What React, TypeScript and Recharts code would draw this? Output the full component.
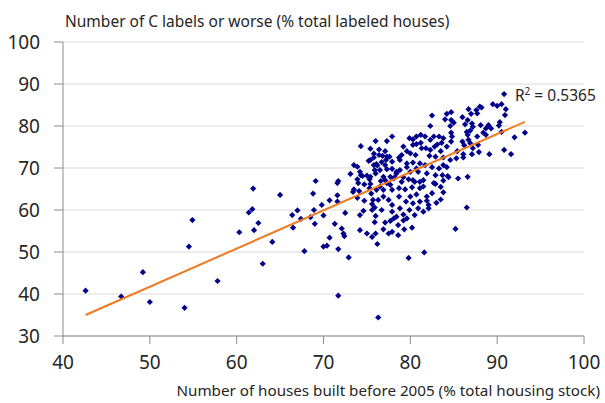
import React from 'react';
import { ScatterChart, Scatter, XAxis, YAxis, CartesianGrid, ReferenceDot } from 'recharts';

const housesBuiltBefore2005 = [
  42.6, 46.7, 49.2, 50.0, 54.0, 54.5, 54.9, 57.8, 60.3, 61.9, 61.8, 61.4, 62.0, 62.5, 63.0, 64.1, 65.0, 66.4, 67.0, 66.5,
  67.4, 67.8, 68.8, 69.1, 68.9, 68.5, 69.0, 69.8, 70.0, 70.0, 70.4, 70.7, 70.7, 71.3, 71.6, 71.6, 71.7, 71.7, 72.1, 72.3,
  72.4, 72.5, 71.7, 72.9, 71.6, 73.1, 73.5, 73.9, 74.2, 74.3, 73.9, 74.0, 73.5, 73.4, 74.1, 73.9, 74.5, 75.0, 74.7, 75.3,
  75.4, 75.3, 75.5, 74.7, 74.6, 74.2, 75.0, 75.2, 75.8, 75.8, 76.1, 75.7, 75.6, 75.6, 75.9, 75.9, 76.0, 76.2, 76.1, 76.3,
  74.3, 76.0, 75.4, 77.3, 77.9, 76.4, 75.8, 77.1, 77.6, 76.8, 76.7, 76.2, 77.2, 75.9, 76.5, 77.3, 77.9, 78.4, 78.7, 77.7,
  78.2, 77.1, 76.6, 74.2, 76.0, 75.6, 75.4, 76.0, 75.4, 76.4, 77.3, 76.5, 76.9, 76.3, 76.9, 77.5, 77.9, 76.7, 77.9, 76.9,
  77.9, 77.5, 77.1, 77.7, 77.1, 77.9, 76.9, 77.3, 77.9, 78.6, 79.3, 79.2, 78.8, 79.5, 80.3, 81.1, 80.0, 80.7, 81.9, 78.7,
  78.7, 79.4, 80.2, 81.1, 79.0, 79.8, 80.5, 81.5, 78.4, 80.0, 80.7, 81.1, 79.6, 79.0, 80.0, 79.9, 80.9, 81.5, 80.5, 79.6,
  78.4, 82.1, 78.6, 80.2, 78.1, 79.2, 81.6, 79.8, 82.5, 82.3, 84.2, 84.7, 84.0, 84.7, 85.0, 84.6, 86.0, 86.7, 87.0, 86.6,
  86.3, 88.0, 87.7, 87.2, 86.9, 86.6, 86.7, 86.0, 86.2, 87.2, 87.8, 85.4, 86.1, 87.1, 84.7, 84.8, 84.7, 83.8, 83.6, 84.2,
  83.3, 82.7, 83.1, 82.3, 81.7, 81.2, 80.7, 80.3, 79.9, 81.2, 80.7, 80.3, 81.3, 81.8, 82.3, 82.8, 83.5, 79.2, 79.6, 80.6,
  82.2, 82.9, 83.8, 84.6, 85.3, 78.8, 80.3, 81.7, 82.5, 83.3, 84.2, 78.8, 79.6, 80.9, 81.9, 83.7, 84.4, 85.5, 86.6, 78.1,
  79.2, 80.3, 81.1, 82.7, 77.7, 81.5, 90.8, 89.5, 90.0, 90.5, 88.2, 87.6, 91.0, 90.9, 90.3, 90.2, 89.0, 89.3, 88.4, 93.2,
  90.5, 92.0, 90.8, 91.6, 89.1, 87.9, 86.1, 87.1, 88.1, 88.7, 87.7, 88.7, 86.9, 86.5, 86.5, 85.2, 82.1, 83.0, 83.5, 81.9,
  82.5, 83.8, 83.5, 82.9, 84.3, 83.8, 82.9, 83.8,
];

const cLabelsOrWorse = [
  40.8, 39.4, 45.2, 38.1, 36.7, 51.3, 57.6, 43.1, 54.7, 65.1, 60.2, 59.4, 55.2, 56.9, 47.2, 52.4, 63.6, 58.8, 59.9, 55.8,
  57.9, 50.2, 63.9, 66.9, 60.0, 58.3, 56.7, 61.2, 58.7, 51.3, 51.5, 53.4, 62.3, 56.7, 63.5, 66.4, 66.9, 50.7, 55.6, 54.4,
  53.8, 59.3, 39.6, 48.7, 62.0, 68.6, 70.7, 70.3, 69.1, 68.3, 67.3, 66.4, 64.9, 64.3, 64.5, 62.9, 68.1, 68.2, 66.1, 67.3,
  66.2, 65.2, 63.9, 62.2, 59.8, 55.2, 54.4, 71.7, 72.5, 70.7, 70.9, 62.4, 61.4, 60.0, 60.6, 57.1, 54.4, 51.9, 64.8, 34.4,
  75.2, 76.4, 74.6, 76.4, 77.5, 74.4, 73.4, 74.0, 72.7, 72.9, 71.4, 70.6, 71.9, 69.5, 69.5, 69.7, 69.8, 69.1, 72.5, 67.9,
  67.8, 67.1, 66.9, 58.8, 58.6, 53.6, 67.9, 68.7, 71.9, 73.1, 72.7, 65.6, 64.8, 62.4, 63.2, 62.4, 61.2, 60.0, 59.6, 55.4,
  54.8, 54.4, 57.0, 57.4, 70.7, 71.5, 67.9, 66.4, 64.8, 56.4, 55.4, 57.5, 60.4, 62.0, 61.6, 62.0, 63.2, 63.7, 63.2, 63.2,
  65.2, 64.9, 65.4, 65.2, 66.7, 67.3, 66.7, 67.1, 68.7, 69.1, 69.9, 71.1, 71.1, 73.1, 73.5, 60.0, 60.4, 59.6, 58.8, 58.0,
  58.4, 61.2, 54.0, 55.8, 58.0, 58.9, 49.9, 48.6, 82.5, 80.0, 82.9, 83.3, 81.6, 81.4, 80.8, 80.0, 82.1, 84.0, 82.9, 81.4,
  80.4, 84.6, 83.0, 79.8, 78.9, 77.9, 76.7, 76.3, 75.4, 74.7, 75.5, 74.0, 73.3, 73.3, 78.4, 77.5, 76.3, 77.1, 76.0, 75.1,
  77.5, 77.5, 75.6, 76.7, 77.5, 77.9, 77.5, 76.8, 77.1, 76.0, 75.7, 75.5, 74.7, 74.7, 74.3, 75.1, 74.0, 75.1, 74.0, 73.1,
  72.9, 72.7, 72.5, 71.9, 72.3, 71.9, 71.3, 70.7, 70.2, 69.9, 70.2, 69.5, 70.2, 69.1, 68.7, 68.3, 67.8, 67.5, 67.9, 67.5,
  67.8, 67.1, 66.7, 66.4, 66.0, 65.6, 87.6, 85.2, 84.8, 85.2, 84.4, 83.8, 84.0, 82.6, 80.9, 80.1, 80.2, 79.4, 78.4, 78.4,
  78.6, 77.3, 74.3, 73.3, 73.3, 73.8, 72.5, 80.6, 80.2, 79.4, 77.5, 77.9, 75.9, 78.6, 60.6, 55.5, 60.4, 61.7, 62.5, 62.2,
  64.0, 64.2, 65.5, 66.2, 68.1, 70.7, 68.3, 67.0,
];

const xTicks = [40, 50, 60, 70, 80, 90, 100];
const yTicks = [30, 40, 50, 60, 70, 80, 90, 100];

const trendX = [42.6, 93.2];
const trendY = [35.0, 81.0];
const rSquaredText = '0.5365';

const yTitle = 'Number of C labels or worse (% total labeled houses)';
const xTitle = 'Number of houses built before 2005 (% total housing stock)';

const points = housesBuiltBefore2005.map((x, i) => ({ x, y: cLabelsOrWorse[i] }));
const trend = trendX.map((x, i) => ({ x, y: trendY[i] }));

const FONT = '"Noto Sans", "Open Sans", sans-serif';

const Diamond = (props: any) => {
  const { cx, cy } = props;
  if (cx == null || cy == null) return <g />;
  const r = 3.1;
  return (
    <path
      d={`M${cx},${cy - r}L${cx + r},${cy}L${cx},${cy + r}L${cx - r},${cy}Z`}
      fill="#00008B"
    />
  );
};

const NoShape = () => <g />;

export default function App() {
  return (
    <div style={{ position: 'absolute', left: 0, top: 0, background: '#fff' }}>
      <ScatterChart
        width={605}
        height={403}
        margin={{ top: 42, right: 21, bottom: 0, left: 0 }}
        style={{ fontFamily: FONT }}
      >
        <CartesianGrid horizontal vertical={false} stroke="#D9D9D9" strokeWidth={1} />
        <XAxis
          type="number"
          dataKey="x"
          domain={[40, 100]}
          ticks={xTicks}
          interval={0}
          height={67}
          tickSize={8}
          tickMargin={12}
          axisLine={{ stroke: '#8C8C8C' }}
          tickLine={{ stroke: '#8C8C8C' }}
          tick={{ fontSize: 19, fill: '#262626', fontFamily: FONT }}
          allowDataOverflow
          label={(p: any) => {
            const vb = p.viewBox;
            return (
              <text
                x={vb.x + vb.width + 16}
                y={vb.y + 60}
                textAnchor="end"
                fontSize={15.2}
                fill="#262626"
                fontFamily={FONT}
              >
                {xTitle}
              </text>
            );
          }}
        />
        <YAxis
          type="number"
          dataKey="y"
          domain={[30, 100]}
          ticks={yTicks}
          interval={0}
          width={63}
          tickSize={9}
          tickMargin={14}
          axisLine={{ stroke: '#8C8C8C' }}
          tickLine={{ stroke: '#8C8C8C' }}
          tick={{ fontSize: 19, fill: '#262626', fontFamily: FONT }}
          allowDataOverflow
          label={(p: any) => {
            const vb = p.viewBox;
            return (
              <text
                x={vb.x + vb.width + 2}
                y={vb.y - 15}
                textAnchor="start"
                fontSize={15.5}
                fill="#262626"
                fontFamily={FONT}
              >
                {yTitle}
              </text>
            );
          }}
        />
        <Scatter data={points} shape={Diamond} isAnimationActive={false} />
        <Scatter
          data={trend}
          line={{ stroke: '#F07A22', strokeWidth: 2 }}
          shape={NoShape}
          isAnimationActive={false}
        />
        <ReferenceDot
          x={trendX[1]}
          y={trendY[1]}
          r={1}
          fill="none"
          stroke="none"
          label={(p: any) => {
            const vb = p.viewBox;
            const cx = vb.x + vb.width / 2;
            const cy = vb.y + vb.height / 2;
            return (
              <text x={cx - 10} y={cy - 21} fontSize={15.5} fill="#262626" fontFamily={FONT}>
                <tspan>R</tspan>
                <tspan dy={-6} fontSize={10}>2</tspan>
                <tspan dy={6}>{` = ${rSquaredText}`}</tspan>
              </text>
            );
          }}
        />
      </ScatterChart>
    </div>
  );
}
